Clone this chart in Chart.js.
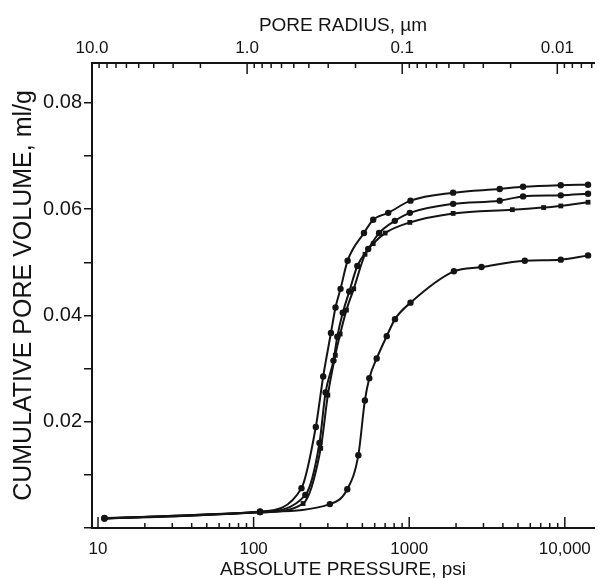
<!DOCTYPE html>
<html>
<head>
<meta charset="utf-8">
<script src="https://cdn.jsdelivr.net/npm/chart.js@4/dist/chart.umd.min.js"></script>
<style>
  body { margin: 0; background: #fff; }
  #wrap { width: 600px; height: 578px; }
</style>
</head>
<body>
<div id="wrap"><canvas id="poreChart" width="600" height="578"></canvas></div>
<script>
// tick labels for the three axes
const pressureTicks = [10, 100, 1000, 10000];
const pressureTickLabels = ["10", "100", "1000", "10,000"];
const radiusTicks = [10, 1, 0.1, 0.01];
const radiusTickLabels = ["10.0", "1.0", "0.1", "0.01"];
const volumeTicks = [0.02, 0.04, 0.06, 0.08];
const volumeTickLabels = ["0.02", "0.04", "0.06", "0.08"];

// curve A (highest plateau)
const aPressure = [11, 110, 203, 251, 280, 314, 336, 362, 402, 512, 587, 733, 1019, 1915, 3817, 5391, 9420, 14100];
const aVolume = [0.0019, 0.0031, 0.0075, 0.019, 0.0285, 0.0367, 0.0415, 0.045, 0.0503, 0.0555, 0.058, 0.0593, 0.0616, 0.0631, 0.0638, 0.0642, 0.0645, 0.0646];

// curve B
const bPressure = [11, 110, 215, 265, 290, 326, 345, 374, 412, 464, 545, 640, 808, 1009, 1915, 3817, 5391, 9420, 14100];
const bVolume = [0.0018, 0.003, 0.0062, 0.016, 0.0255, 0.0315, 0.036, 0.0405, 0.0445, 0.0493, 0.0525, 0.0555, 0.0578, 0.0593, 0.061, 0.0616, 0.0624, 0.0626, 0.0629];

// curve C (square markers)
const cPressure = [11, 110, 208, 270, 300, 335, 360, 395, 440, 520, 587, 700, 1009, 1915, 4600, 7310, 9420, 14100];
const cVolume = [0.0018, 0.0029, 0.0046, 0.015, 0.025, 0.0325, 0.0365, 0.041, 0.045, 0.0515, 0.0535, 0.0555, 0.0575, 0.0592, 0.0599, 0.0603, 0.0606, 0.0613];

// curve D (shifted to higher pressure)
const dPressure = [11, 110, 309, 400, 471, 519, 554, 618, 717, 810, 1019, 1937, 2913, 5530, 9420, 14100];
const dVolume = [0.0018, 0.003, 0.0045, 0.0073, 0.0137, 0.024, 0.0282, 0.0319, 0.0361, 0.0393, 0.0424, 0.0483, 0.0491, 0.0503, 0.0505, 0.0513];

const ink = "#141414";
const fontFamily = "'Liberation Sans', Arial, Helvetica, sans-serif";

function toPoints(xs, ys) {
    return xs.map((x, i) => ({ x: x, y: ys[i] }));
}

function lookupLabel(value, ticks, labels) {
    for (let i = 0; i < ticks.length; i++) {
        if (Math.abs(value - ticks[i]) < ticks[i] * 1e-6) return labels[i];
    }
    return "";
}

// 1..9 x 10^n between min and max
function logTickValues(min, max) {
    const out = [];
    for (let e = Math.floor(Math.log10(min)); e <= Math.ceil(Math.log10(max)); e++) {
        for (let k = 1; k <= 9; k++) {
            const v = Number((k * Math.pow(10, e)).toPrecision(6));
            if (v >= min * 0.9999 && v <= max * 1.0001) out.push({ value: v });
        }
    }
    return out;
}

function isDecade(v) {
    const l = Math.log10(v);
    return Math.abs(l - Math.round(l)) < 1e-6;
}

// tick marks on the log axes point into the plot
const innerTicks = {
    id: "innerTicks",
    afterDraw(chart) {
        const ctx = chart.ctx;
        const area = chart.chartArea;
        [["x", -1], ["x2", 1]].forEach(function (pair) {
            const scale = chart.scales[pair[0]];
            const edge = pair[1] < 0 ? scale.top : scale.bottom;
            ctx.save();
            ctx.strokeStyle = ink;
            ctx.lineWidth = 1.5;
            scale.ticks.forEach(function (t) {
                const px = scale.getPixelForValue(t.value);
                if (px < area.left - 0.5 || px > area.right + 0.5) return;
                const len = isDecade(t.value) ? 11 : 5;
                ctx.beginPath();
                ctx.moveTo(px, edge);
                ctx.lineTo(px, edge + pair[1] * len);
                ctx.stroke();
            });
            ctx.restore();
        });
    }
};

function lineSet(label, xs, ys, style) {
    return {
        label: label,
        data: toPoints(xs, ys),
        xAxisID: "x",
        yAxisID: "y",
        borderColor: ink,
        backgroundColor: ink,
        borderWidth: 2,
        pointStyle: style,
        pointRadius: style === "rect" ? 3.4 : 3.2,
        pointBorderWidth: 0,
        cubicInterpolationMode: "monotone"
    };
}

function init() {
    const ctx = document.getElementById("poreChart").getContext("2d");
    new Chart(ctx, {
        type: "line",
        data: {
            datasets: [
                lineSet("A", aPressure, aVolume, "circle"),
                lineSet("B", bPressure, bVolume, "circle"),
                lineSet("C", cPressure, cVolume, "rect"),
                lineSet("D", dPressure, dVolume, "circle")
            ]
        },
        options: {
            responsive: false,
            animation: false,
            devicePixelRatio: 1,
            layout: { padding: { top: 0, right: 6, bottom: 0, left: 0 } },
            plugins: {
                legend: { display: false },
                tooltip: { enabled: false }
            },
            scales: {
                x: {
                    type: "logarithmic",
                    position: "bottom",
                    min: 9.15,
                    max: 15400,
                    afterBuildTicks: function (scale) { scale.ticks = logTickValues(scale.min, scale.max); },
                    afterFit: function (scale) { scale.height = 50; },
                    grid: { display: false },
                    border: { display: true, color: ink, width: 2 },
                    ticks: {
                        autoSkip: false,
                        maxRotation: 0,
                        padding: 3,
                        color: ink,
                        font: { family: fontFamily, size: 17 },
                        callback: function (value) { return lookupLabel(value, pressureTicks, pressureTickLabels); }
                    },
                    title: {
                        display: true,
                        text: "ABSOLUTE PRESSURE, psi",
                        color: ink,
                        font: { family: fontFamily, size: 19 },
                        padding: { top: 0, bottom: -3 }
                    }
                },
                x2: {
                    type: "logarithmic",
                    position: "top",
                    reverse: true,
                    min: 0.0058,
                    max: 10,
                    afterBuildTicks: function (scale) { scale.ticks = logTickValues(scale.min, scale.max); },
                    afterFit: function (scale) { scale.height = 63; },
                    grid: { display: false },
                    border: { display: true, color: ink, width: 2 },
                    ticks: {
                        autoSkip: false,
                        maxRotation: 0,
                        padding: -4,
                        color: ink,
                        font: { family: fontFamily, size: 17 },
                        callback: function (value) { return lookupLabel(value, radiusTicks, radiusTickLabels); }
                    },
                    title: {
                        display: true,
                        text: "PORE RADIUS, \u00b5m",
                        color: ink,
                        font: { family: fontFamily, size: 19 },
                        padding: { top: 14, bottom: 0 }
                    }
                },
                y: {
                    type: "linear",
                    position: "left",
                    min: 0,
                    max: 0.0875,
                    afterFit: function (scale) { scale.width = 92; },
                    grid: { drawOnChartArea: false, drawTicks: true, tickLength: 8, color: ink, lineWidth: 1.5 },
                    border: { display: true, color: ink, width: 2 },
                    ticks: {
                        stepSize: 0.01,
                        includeBounds: false,
                        padding: 2,
                        color: ink,
                        font: { family: fontFamily, size: 20 },
                        callback: function (value) { return lookupLabel(value, volumeTicks, volumeTickLabels); }
                    },
                    title: {
                        display: true,
                        text: "CUMULATIVE PORE VOLUME, ml/g",
                        color: ink,
                        font: { family: fontFamily, size: 25 },
                        padding: { top: 9, bottom: 0 }
                    }
                }
            }
        },
        plugins: [innerTicks]
    });
}

document.addEventListener("DOMContentLoaded", init);
</script>
</body>
</html>
